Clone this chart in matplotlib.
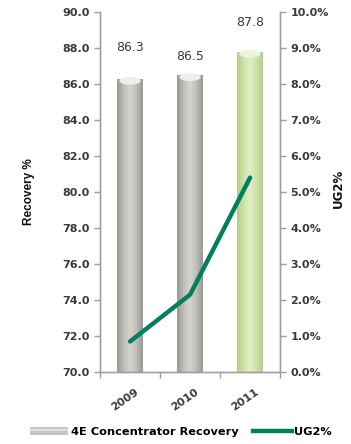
import numpy as np
import matplotlib
matplotlib.use('Agg')
import matplotlib.pyplot as plt
from matplotlib.colors import LinearSegmentedColormap
from matplotlib.patches import Ellipse, Rectangle
from matplotlib.lines import Line2D
from matplotlib.legend_handler import HandlerBase

years = ['2009', '2010', '2011']
recovery = [86.3, 86.5, 87.8]
ug2 = [0.85, 2.15, 5.4]
label_lift = [18, 9, 16]   # points above each bar top for the value labels

gray_cyl = LinearSegmentedColormap.from_list('g', ['#9a9a92', '#bebeb6', '#d6d6cf', '#bebeb6', '#9a9a92'])
green_cyl = LinearSegmentedColormap.from_list('gr', ['#b3cf86', '#cfe2a8', '#e2eec8', '#cfe2a8', '#b3cf86'])
line_col = '#00805f'
txt_col = '#3a3a3a'

fig = plt.figure(figsize=(3.51, 4.44), dpi=100)
ax = fig.add_axes([0.285, 0.162, 0.513, 0.811])
ax2 = ax.twinx()

x = np.arange(len(years))
w = 0.42
grad = np.linspace(0, 1, 64).reshape(1, -1)
bars = ax.bar(x, [r - 70 for r in recovery], width=w, bottom=70, color='none', edgecolor='none')
for i, b in enumerate(bars):
    cmap = green_cyl if i == 2 else gray_cyl
    x0, y0 = b.get_x(), b.get_y()
    im = ax.imshow(grad, cmap=cmap, aspect='auto', extent=[x0, x0 + w, y0, y0 + b.get_height()], zorder=2)
    im.set_clip_path(b)
    top = y0 + b.get_height()
    cap_col = '#eef5dc' if i == 2 else '#efefea'
    ax.add_patch(Ellipse((x[i], top - 0.12), w * 0.78, 0.35, color=cap_col, zorder=3))
    ax.annotate(f'{recovery[i]:.1f}', (x[i], top), xytext=(0, label_lift[i]), textcoords='offset points',
                ha='center', va='bottom', fontsize=9, color=txt_col)

ax.set_xlim(-0.5, 2.5)
ax.set_ylim(70, 90)
ax.set_yticks(np.arange(70, 90.1, 2))
ax.set_yticklabels([f'{v:.1f}' for v in np.arange(70, 90.1, 2)])
ax.set_xticks([-0.5, 0.5, 1.5, 2.5])
ax.set_xticklabels([])
for i, yr in enumerate(years):
    ax.text(x[i] + 0.08, 69.2, yr, rotation=35, ha='right', va='top', fontsize=8,
            fontweight='bold', color=txt_col, rotation_mode='anchor')

ax2.plot(x, ug2, color=line_col, lw=3.2, solid_capstyle='round', zorder=5)
ax2.set_ylim(0, 10)
ax2.set_yticks(np.arange(0, 10.1, 1))
ax2.set_yticklabels([f'{v:.1f}%' for v in np.arange(0, 10.1, 1)])

for a in (ax, ax2):
    a.spines['top'].set_visible(False)
    for s in ('left', 'right', 'bottom'):
        a.spines[s].set_color('#a0a0a0')
        a.spines[s].set_linewidth(1.0)
    a.tick_params(colors='#a0a0a0', labelcolor=txt_col, labelsize=8, length=4, width=1)
    for t in a.get_yticklabels():
        t.set_fontweight('bold')

ax.set_ylabel('Recovery %', fontsize=8.5, fontweight='bold', family='Liberation Sans', color='#111111')
ax.yaxis.set_label_coords(-0.36, 0.5)
ax2.set_ylabel('UG2%', fontsize=8.5, fontweight='bold', rotation=90, color='#111111')
ax2.yaxis.set_label_coords(1.29, 0.51)


class CylHandler(HandlerBase):
    def create_artists(self, legend, orig, xd, yd, width, height, fontsize, trans):
        r = Rectangle((xd, yd), width, height, facecolor='#c4c4bc', edgecolor='none', transform=trans)
        r2 = Rectangle((xd, yd + height * 0.55), width, height * 0.3, facecolor='#e2e2dc', edgecolor='none', transform=trans)
        return [r, r2]


bar_handle = Line2D([], [])
line_handle = Line2D([], [], color=line_col, lw=3.2)
fig.legend([bar_handle, line_handle], ['4E Concentrator Recovery', 'UG2%'],
           handler_map={bar_handle: CylHandler()}, loc='lower center', bbox_to_anchor=(0.515, -0.008),
           ncol=2, frameon=False, prop={'weight': 'bold', 'size': 8.2},
           handlelength=3.4, handletextpad=0.2, columnspacing=1.3)

fig.savefig('out.png', dpi=100)
